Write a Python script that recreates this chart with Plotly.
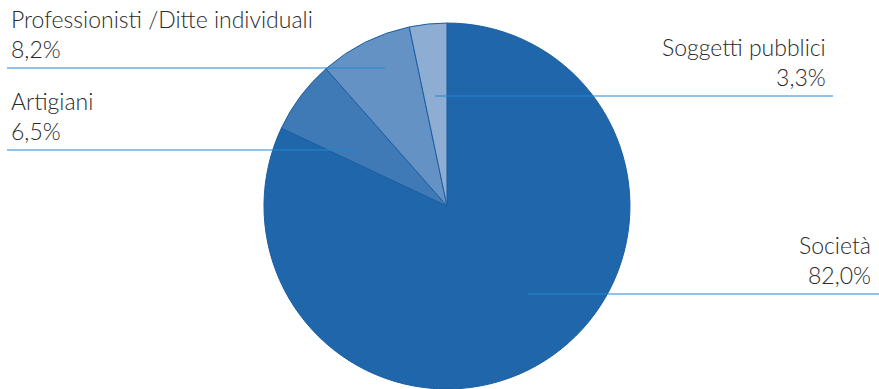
import plotly.graph_objects as go

W, H = 879, 389

# Distribution by category (percent)
categories = ["Società", "Artigiani", "Professionisti /Ditte individuali", "Soggetti pubblici"]
values = [82.0, 6.5, 8.2, 3.3]
value_labels = ["82,0%", "6,5%", "8,2%", "3,3%"]
colors = ["#1f66aa", "#407ab6", "#6492c4", "#8eadd3"]

fig = go.Figure()
fig.add_trace(go.Pie(
    labels=categories,
    values=values,
    sort=False,
    direction="clockwise",
    rotation=0,
    marker=dict(colors=colors, line=dict(color="#1a5ea3", width=1)),
    textinfo="none",
    hoverinfo="label+percent",
    showlegend=False,
    domain=dict(x=[0.3003, 0.7167], y=[0.0, 0.9408]),
))

def px(x):
    return x / W

def py(y):
    return 1 - y / H

# Leader lines: (x0, x1, y) in pixels, and label layout
leaders = {
    "Società": (528, 879, 294, 873, "right"),
    "Artigiani": (7, 358, 150, 9, "left"),
    "Professionisti /Ditte individuali": (7, 385, 68, 9, "left"),
    "Soggetti pubblici": (435, 833, 96, 828, "right"),
}

line_color = "#2087d0"
for cat, lab in zip(categories, value_labels):
    x0, x1, y, tx, align = leaders[cat]
    fig.add_shape(type="line", xref="paper", yref="paper",
                  x0=px(x0), x1=px(x1), y0=py(y), y1=py(y),
                  line=dict(color=line_color, width=1.2))
    fig.add_annotation(
        xref="paper", yref="paper",
        x=px(tx), y=py(y - 3),
        xanchor=align, yanchor="bottom", align=align,
        text=f"{cat}<br>{lab}",
        showarrow=False,
        font=dict(family="Lato, 'Open Sans', sans-serif", size=23,
                  weight=300, color="#2a2a2a"),
    )

fig.update_layout(
    width=W, height=H,
    margin=dict(l=0, r=0, t=0, b=0),
    paper_bgcolor="white",
    plot_bgcolor="white",
)

fig.write_html("out.html")
